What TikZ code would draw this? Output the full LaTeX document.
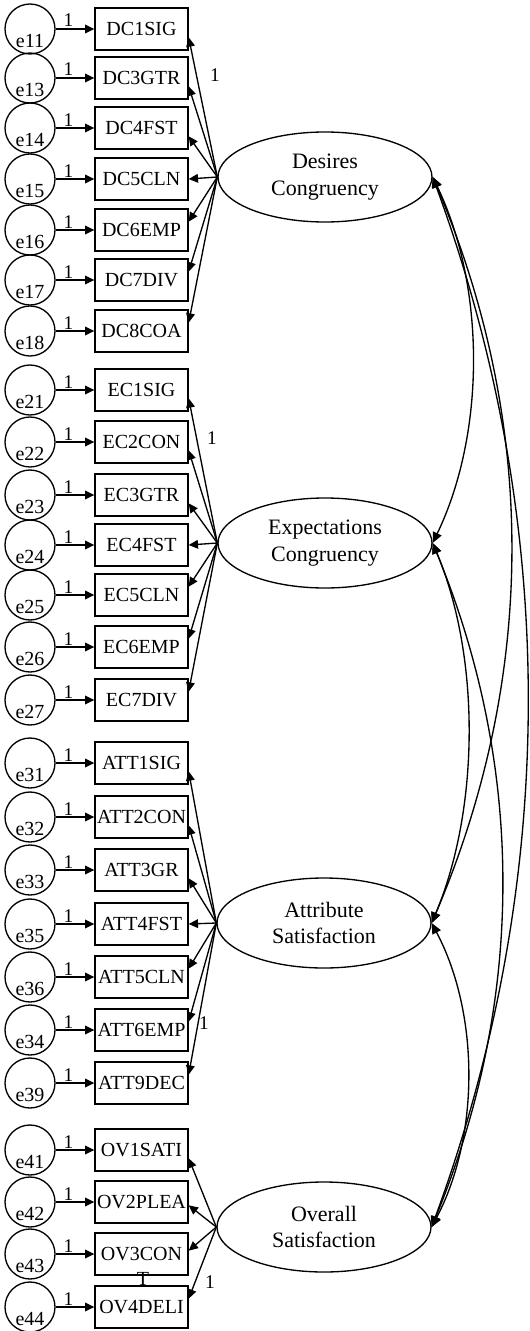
\documentclass[tikz,border=0pt]{standalone}
\usepackage{fontspec}
\setmainfont{Liberation Serif}
\usetikzlibrary{shapes.geometric,arrows.meta,calc}

% one row: error circle, observed variable box, and the error path
\newcommand\indicrow[4]{% #1 error name, #2 box name, #3 y, #4 box text
  \node[obs] (#2) at (141.5,#3) {#4};
  \node[err,label={[errlab]below:#1}] (#1) at (30,#3) {};
  \draw[ldarrow] (#1) -- node[pos=0.33,above,wlabel]{1} (#2);
}

\begin{document}
\begin{tikzpicture}[x=0.75pt,y=-0.75pt,
  line width=1pt,
  ldarrow/.style={-{Triangle[length=7pt,width=6.5pt]}},
  covarrow/.style={{Triangle[length=8pt,width=7pt]}-{Triangle[length=8pt,width=7pt]}},
  obs/.style={draw,rectangle,minimum width=69.75pt,minimum height=31.5pt,
    inner sep=0pt,font=\fontsize{15}{17}\selectfont},
  err/.style={draw,circle,minimum size=37.5pt,inner sep=0pt},
  errlab/.style={anchor=center,yshift=10.5pt,inner sep=0pt,
    font=\fontsize{15}{17}\selectfont},
  lat/.style={draw,ellipse,minimum width=160.5pt,minimum height=67.5pt,
    inner sep=0pt,align=center,font=\fontsize{16.5}{20}\selectfont},
  wlabel/.style={font=\fontsize{14.5}{16}\selectfont,inner sep=1pt}
]
\fill[white] (0,0) rectangle (529,1331);
\useasboundingbox (0,0) rectangle (529,1331);

% latent factors
\node[lat] (dc)  at (325,177)  {Desires\\Congruency};
\node[lat] (ec)  at (325,543)  {Expectations\\Congruency};
\node[lat] (att) at (324,923)  {Attribute\\Satisfaction};
\node[lat] (ovs) at (324,1227) {Overall\\Satisfaction};

% desires congruency indicators
\indicrow{e11}{dc1}{29}{DC1SIG}
\indicrow{e13}{dc3}{78}{DC3GTR}
\indicrow{e14}{dc4}{128}{DC4FST}
\indicrow{e15}{dc5}{179}{DC5CLN}
\indicrow{e16}{dc6}{230}{DC6EMP}
\indicrow{e17}{dc7}{280}{DC7DIV}
\indicrow{e18}{dc8}{331}{DC8COA}

% expectations congruency indicators
\indicrow{e21}{ec1}{390}{EC1SIG}
\indicrow{e22}{ec2}{442}{EC2CON}
\indicrow{e23}{ec3}{495}{EC3GTR}
\indicrow{e24}{ec4}{545}{EC4FST}
\indicrow{e25}{ec5}{595}{EC5CLN}
\indicrow{e26}{ec6}{647}{EC6EMP}
\indicrow{e27}{ec7}{700}{EC7DIV}

% attribute satisfaction indicators
\indicrow{e31}{at1}{763}{ATT1SIG}
\indicrow{e32}{at2}{817}{ATT2CON}
\indicrow{e33}{at3}{870}{ATT3GR}
\indicrow{e35}{at4}{924}{ATT4FST}
\indicrow{e36}{at5}{977}{ATT5CLN}
\indicrow{e34}{at6}{1030}{ATT6EMP}
\indicrow{e39}{at9}{1083}{ATT9DEC}

% overall satisfaction indicators
\indicrow{e41}{ov1}{1150}{OV1SATI}
\indicrow{e42}{ov2}{1202}{OV2PLEA}
\indicrow{e43}{ov3}{1254}{OV3CON}
\indicrow{e44}{ov4}{1307}{OV4DELI}
\node[font=\fontsize{15}{17}\selectfont,inner sep=0pt] (ov3t) at (143,1279) {T};

% factor loadings
\foreach \b in {dc1,dc3,dc4} \draw[ldarrow] (dc.west) -- (\b.-10);
\draw[ldarrow] (dc.west) -- (dc5.east);
\foreach \b in {dc6,dc7,dc8} \draw[ldarrow] (dc.west) -- (\b.10);

\foreach \b in {ec1,ec2,ec3} \draw[ldarrow] (ec.west) -- (\b.-10);
\draw[ldarrow] (ec.west) -- (ec4.east);
\foreach \b in {ec5,ec6,ec7} \draw[ldarrow] (ec.west) -- (\b.10);

\foreach \b in {at1,at2,at3} \draw[ldarrow] (att.west) -- (\b.-10);
\draw[ldarrow] (att.west) -- (at4.east);
\foreach \b in {at5,at6,at9} \draw[ldarrow] (att.west) -- (\b.10);

\draw[ldarrow] (ovs.west) -- (ov1.-10);
\draw[ldarrow] (ovs.west) -- (ov2.-4);
\draw[ldarrow] (ovs.west) -- (ov3.4);
\draw[ldarrow] (ovs.west) -- (ov4.10);

% fixed loadings
\node[wlabel] (dcfix)  at (215,75)   {1};
\node[wlabel] (ecfix)  at (212,438)  {1};
\node[wlabel] (attfix) at (204,1023) {1};
\node[wlabel] (ovfix)  at (210,1282) {1};

% factor covariances
\draw[covarrow] (dc.east)  .. controls +(53,110)  and +(53,-110)  .. (ec.east);
\draw[covarrow] (dc.east)  .. controls +(105,246) and +(105,-246) .. (att.east);
\draw[covarrow] (dc.east)  .. controls +(127,346) and +(127,-346) .. (ovs.east);
\draw[covarrow] (ec.east)  .. controls +(48,114)  and +(48,-114)  .. (att.east);
\draw[covarrow] (ec.east)  .. controls +(93,226)  and +(93,-226)  .. (ovs.east);
\draw[covarrow] (att.east) .. controls +(48,91)   and +(48,-91)   .. (ovs.east);
\end{tikzpicture}
\end{document}
